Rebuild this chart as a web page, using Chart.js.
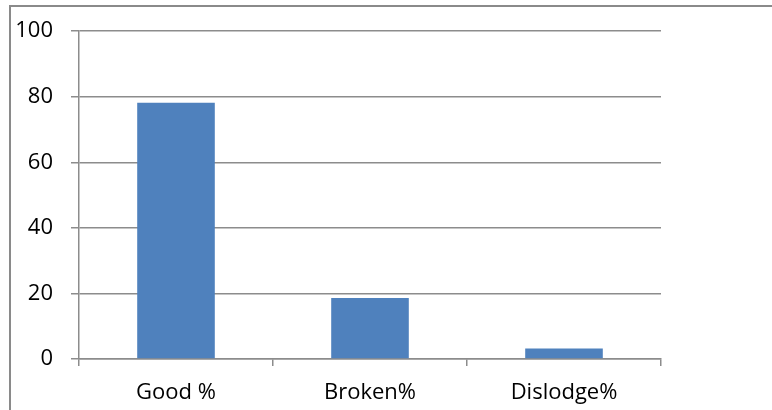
<!DOCTYPE html>
<html>
<head>
<meta charset="utf-8">
<script src="https://cdn.jsdelivr.net/npm/chart.js@4/dist/chart.umd.min.js"></script>
<style>
  html, body { margin: 0; padding: 0; background: #fff; }
  #wrap { position: relative; width: 772px; height: 410px; overflow: hidden; }
  #frame { position: absolute; left: 9px; top: 5px; width: 800px; height: 440px;
           border-left: 2px solid #8a8a8a; border-top: 2px solid #8a8a8a; box-sizing: border-box; }
  canvas { position: absolute; left: 0; top: 0; }
</style>
</head>
<body>
<div id="wrap">
  <div id="frame"></div>
  <canvas id="chart" width="772" height="410"></canvas>
</div>
<script>
  // ── Data ──────────────────────────────────────────────────────────────────
  const categories = ['Good %', 'Broken%', 'Dislodge%'];
  const values     = [78.2, 18.6, 3.2];
  const yTicks     = [0, 20, 40, 60, 80, 100];

  const GRID = '#8c8c8c';
  const FONT = { family: 'Open Sans', size: 22 };

  new Chart(document.getElementById('chart').getContext('2d'), {
    type: 'bar',
    data: {
      labels: categories,
      datasets: [{
        data: values,
        backgroundColor: '#4f81bd',
        borderWidth: 0,
        barPercentage: 0.4,
        categoryPercentage: 1.0,
      }]
    },
    options: {
      responsive: false,
      animation: false,
      layout: { autoPadding: false, padding: { left: 0, right: 111, top: 29, bottom: 0 } },
      plugins: { legend: { display: false }, tooltip: { enabled: false } },
      scales: {
        x: {
          grid: { offset: true, drawOnChartArea: false, drawTicks: true, tickLength: 7, color: GRID, lineWidth: 1.5 },
          border: { display: true, color: GRID, width: 1.5 },
          ticks: { color: '#000', font: FONT, padding: 14, maxRotation: 0 },
          afterFit: s => { s.height = 51; }
        },
        y: {
          min: 0, max: 100,
          afterBuildTicks: s => { s.ticks = yTicks.map(v => ({ value: v })); },
          grid: { color: GRID, lineWidth: 1.5, tickLength: 8 },
          border: { display: true, color: GRID, width: 1.5 },
          ticks: { color: '#000', font: FONT, padding: 18 },
          afterFit: s => { s.width = 79; }
        }
      }
    }
  });
</script>
</body>
</html>
